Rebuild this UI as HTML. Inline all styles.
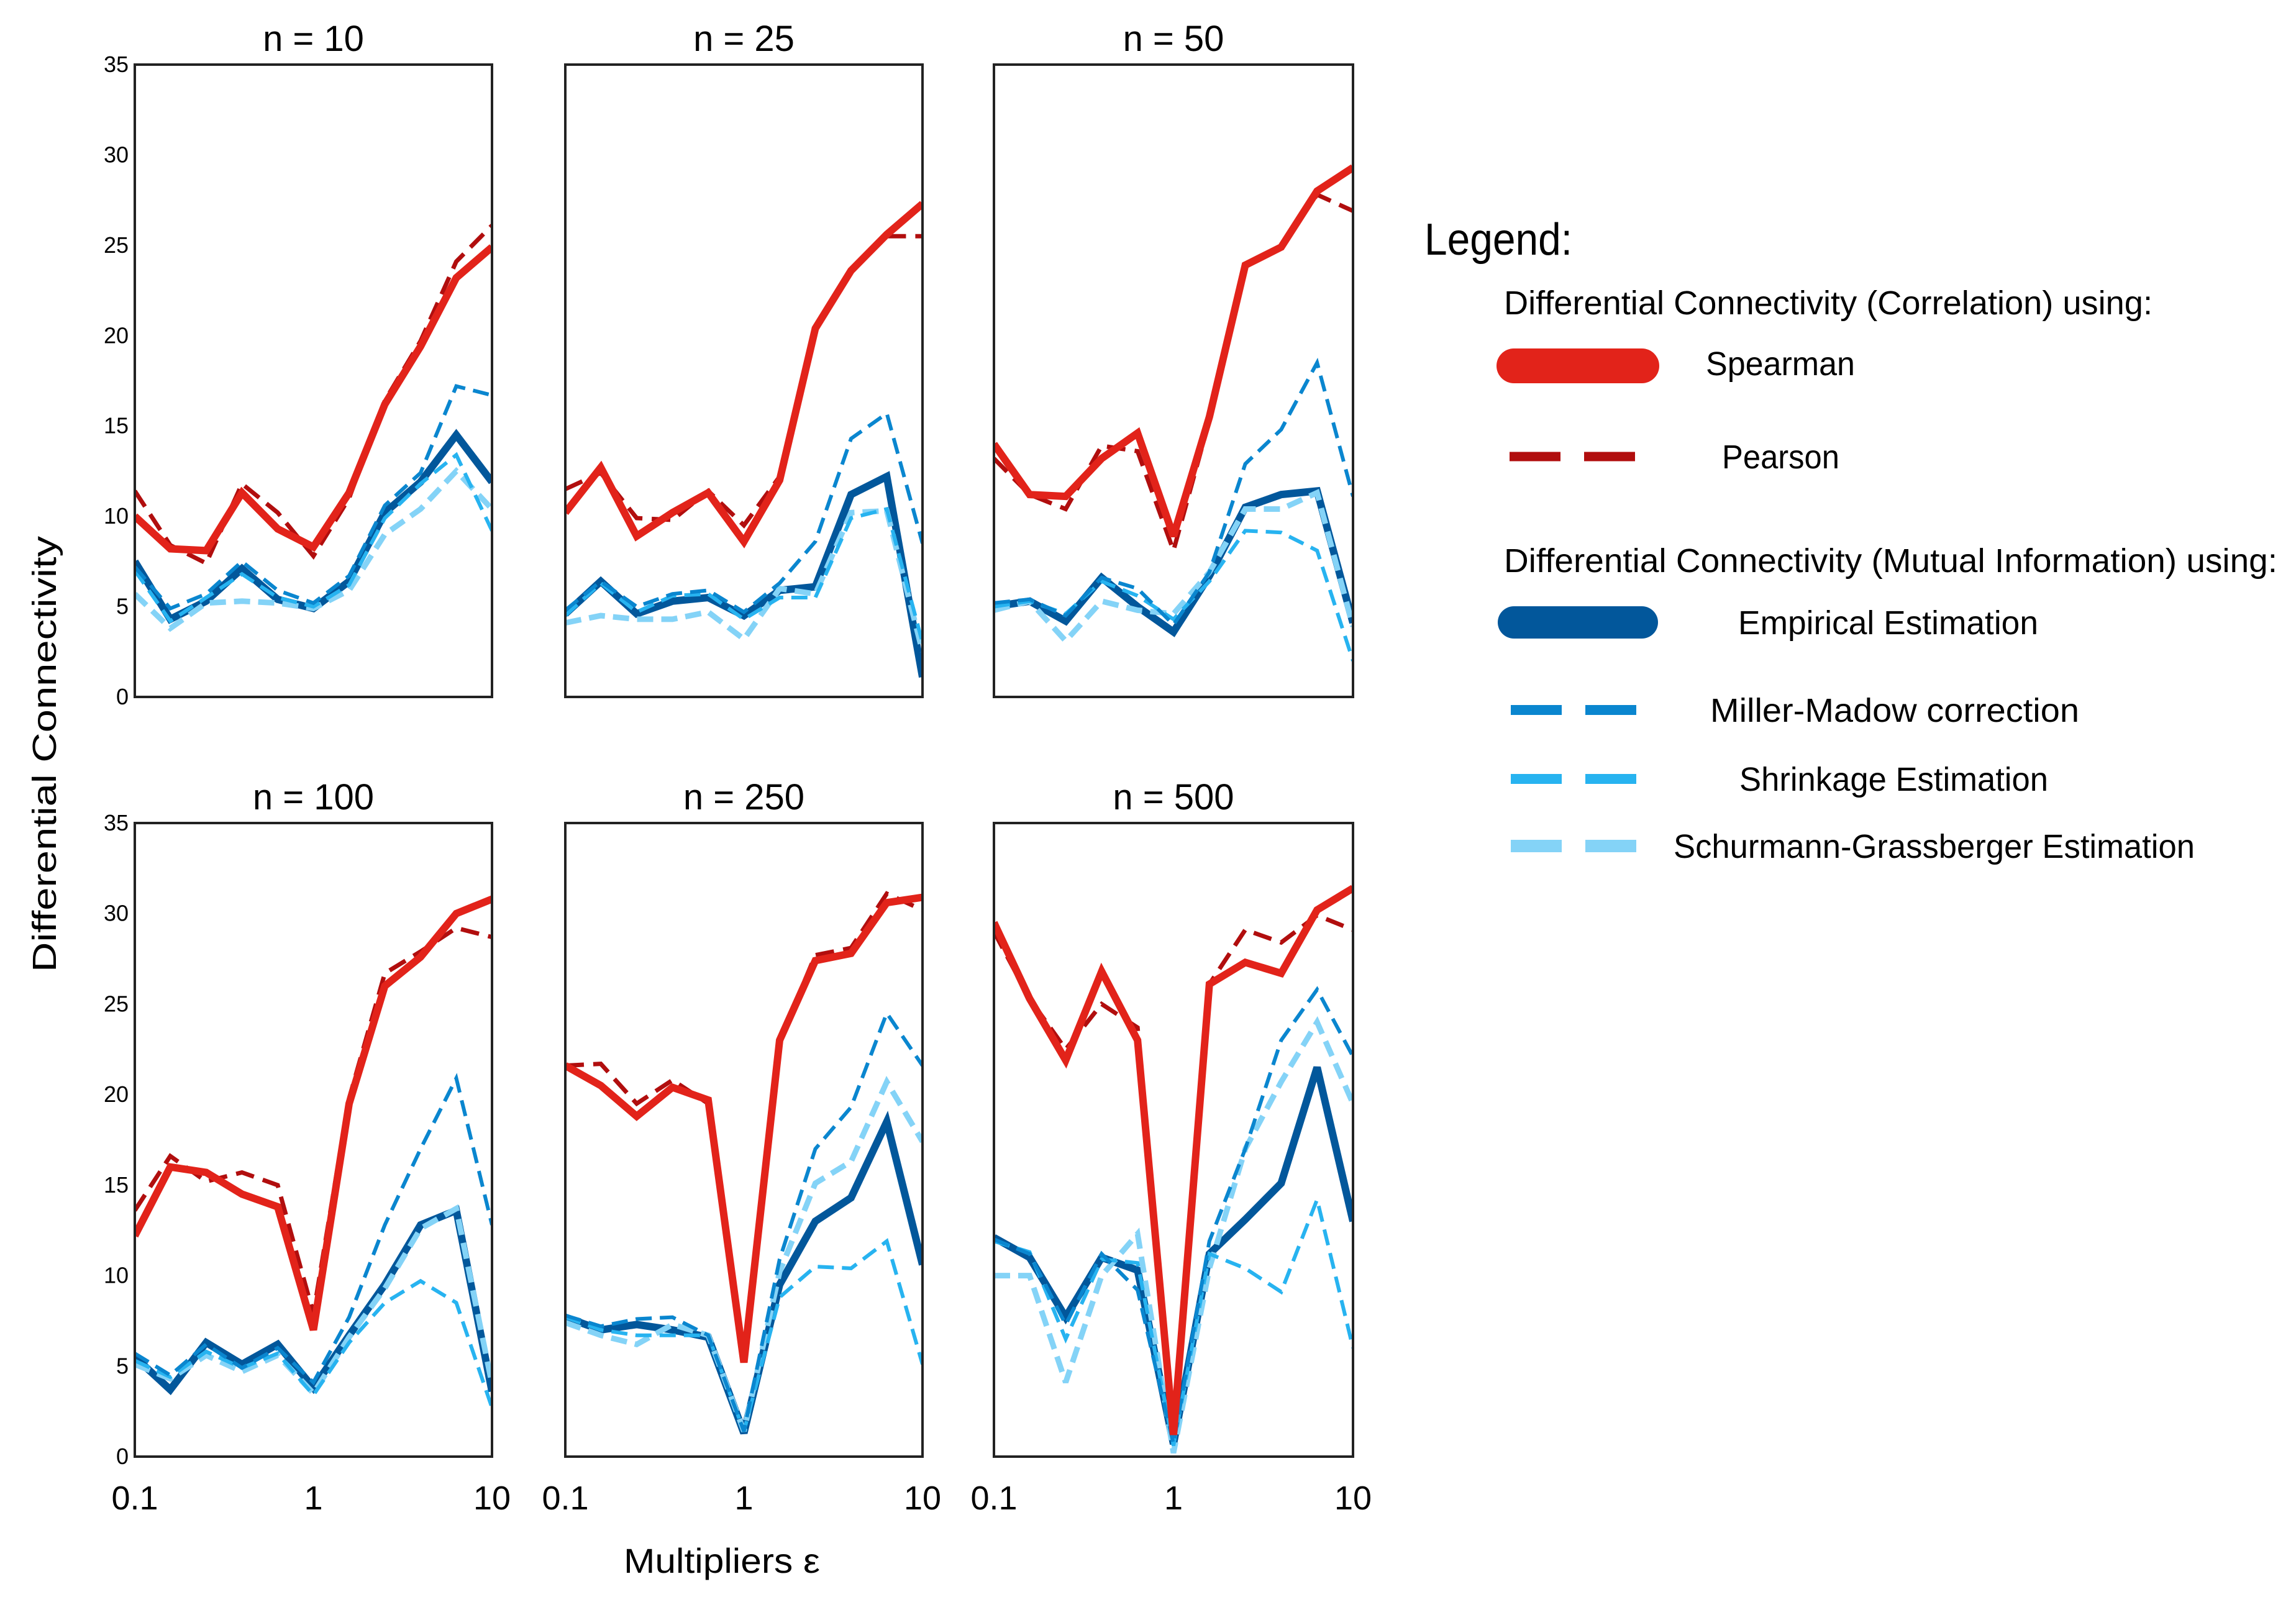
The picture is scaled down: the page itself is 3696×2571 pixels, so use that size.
<!DOCTYPE html>
<html><head><meta charset="utf-8">
<style>
html,body{margin:0;padding:0;background:#fff;}
svg{display:block;font-family:"Liberation Sans Narrow","Liberation Sans",sans-serif;}
</style></head>
<body>
<svg id="chart" width="3696" height="2571" viewBox="0 0 3696 2571" xmlns="http://www.w3.org/2000/svg">
<rect width="3696" height="2571" fill="#fff"/>
<g id="panels"></g>
<text x="0" y="0" transform="translate(90,1214) rotate(-90)" text-anchor="middle" font-size="54" textLength="702" lengthAdjust="spacingAndGlyphs">Differential Connectivity</text>
<text x="1162" y="2532" text-anchor="middle" font-size="56" textLength="316" lengthAdjust="spacingAndGlyphs">Multipliers ε</text>
<g>
<text x="2293" y="410" font-size="72" textLength="238" lengthAdjust="spacingAndGlyphs">Legend:</text>
<text x="2421" y="506" font-size="54" textLength="1044" lengthAdjust="spacingAndGlyphs">Differential Connectivity (Correlation) using:</text>
<line x1="2437" y1="589" x2="2643" y2="589" stroke="#e2231a" stroke-width="56" stroke-linecap="round"/>
<text x="2746" y="604" font-size="54" textLength="240" lengthAdjust="spacingAndGlyphs">Spearman</text>
<line x1="2430" y1="735" x2="2633" y2="735" stroke="#b10e0e" stroke-width="15" stroke-dasharray="82,38"/>
<text x="2772" y="754" font-size="54" textLength="189" lengthAdjust="spacingAndGlyphs">Pearson</text>
<text x="2421" y="921" font-size="54" textLength="1245" lengthAdjust="spacingAndGlyphs">Differential Connectivity (Mutual Information) using:</text>
<line x1="2437" y1="1002" x2="2643" y2="1002" stroke="#02579b" stroke-width="52" stroke-linecap="round"/>
<text x="2798" y="1021" font-size="54" textLength="483" lengthAdjust="spacingAndGlyphs">Empirical Estimation</text>
<line x1="2432" y1="1143" x2="2635" y2="1143" stroke="#0a86cf" stroke-width="16" stroke-dasharray="82,38"/>
<text x="2753" y="1162" font-size="54" textLength="594" lengthAdjust="spacingAndGlyphs">Miller-Madow correction</text>
<line x1="2432" y1="1254" x2="2635" y2="1254" stroke="#27b3f0" stroke-width="16" stroke-dasharray="82,38"/>
<text x="2800" y="1273" font-size="54" textLength="497" lengthAdjust="spacingAndGlyphs">Shrinkage Estimation</text>
<line x1="2432" y1="1362" x2="2635" y2="1362" stroke="#84d3f7" stroke-width="20" stroke-dasharray="82,38"/>
<text x="2694" y="1381" font-size="54" textLength="839" lengthAdjust="spacingAndGlyphs">Schurmann-Grassberger Estimation</text>
</g>
</svg>
<script>
const panelTitles = ["n = 10","n = 25","n = 50","n = 100","n = 250","n = 500"];
const multipliers = [0.1,0.158,0.251,0.398,0.631,1,1.585,2.512,3.981,6.31,10];
const yTicks = [0,5,10,15,20,25,30,35];
const xTickValues = [0.1,1,10];
const xTickLabels = ["0.1","1","10"];
const spearman = [
 [10.0,8.2,8.1,11.3,9.3,8.3,11.3,16.2,19.4,23.2,24.9],
 [10.2,12.7,8.9,10.2,11.3,8.6,12.0,20.4,23.6,25.6,27.3],
 [14.0,11.2,11.1,13.2,14.6,8.9,15.5,23.9,24.9,28.0,29.3],
 [12.2,16.0,15.7,14.5,13.8,7.0,19.5,26.0,27.6,30.0,30.8],
 [21.6,20.5,18.8,20.4,19.7,5.2,23.0,27.4,27.8,30.6,30.9],
 [29.5,25.3,21.9,26.8,23.0,1.2,26.1,27.3,26.7,30.2,31.4]];
const pearson = [
 [11.4,8.4,7.4,11.8,10.2,7.8,11.0,16.4,19.7,24.1,26.1],
 [11.5,12.4,9.9,9.8,11.4,9.5,12.2,20.4,23.6,25.5,25.5],
 [13.2,11.2,10.4,13.9,13.6,8.1,15.3,23.9,24.9,27.8,26.9],
 [13.6,16.6,15.2,15.7,15.0,7.9,19.8,26.7,27.9,29.2,28.7],
 [21.6,21.7,19.5,20.8,19.5,5.6,23.0,27.7,28.1,31.1,30.2],
 [29.0,25.3,22.5,25.0,23.7,1.2,26.1,29.1,28.4,29.9,29.1]];
const empirical = [
 [7.5,4.3,5.3,7.1,5.4,4.9,6.4,10.2,11.9,14.5,11.9],
 [4.6,6.4,4.6,5.3,5.5,4.5,5.9,6.1,11.2,12.2,1.1],
 [5.0,5.3,4.2,6.6,5.0,3.6,6.7,10.5,11.2,11.4,4.1],
 [5.5,3.7,6.3,5.1,6.2,3.8,6.7,9.5,12.8,13.6,3.6],
 [7.7,7.0,7.3,7.0,6.6,1.3,9.5,13.0,14.3,18.5,10.6],
 [12.1,11.0,7.7,11.0,10.3,0.7,11.2,13.1,15.1,21.5,13.0]];
const millerMadow = [
 [7.2,4.9,5.7,7.5,5.9,5.2,6.7,10.6,12.4,17.2,16.7],
 [4.8,6.4,5.0,5.7,5.9,4.7,6.3,8.6,14.3,15.7,8.5],
 [5.2,5.4,4.5,6.6,6.0,4.0,6.9,12.9,14.8,18.5,11.1],
 [5.7,4.5,6.2,4.9,6.0,4.1,7.7,12.8,17.0,20.9,12.8],
 [7.8,7.2,7.6,7.7,6.7,1.4,10.9,17.0,19.3,24.5,21.6],
 [12.0,11.2,7.3,11.2,9.2,0.7,11.9,17.0,23.0,25.8,22.1]];
const shrinkage = [
 [7.0,4.2,5.5,6.8,5.5,5.0,6.2,9.9,11.8,13.4,9.2],
 [4.5,6.3,4.7,5.6,5.7,4.3,5.5,5.5,9.9,10.4,3.0],
 [5.0,5.3,4.6,6.4,5.6,4.3,6.4,9.2,9.1,8.1,2.0],
 [5.3,4.4,5.8,4.9,5.7,3.4,6.3,8.5,9.7,8.5,2.7],
 [7.7,7.0,6.7,6.7,6.7,1.4,8.8,10.5,10.4,11.9,5.1],
 [11.9,11.3,6.5,10.9,10.7,0.6,11.2,10.4,9.1,14.2,6.0]];
const schurmannGrassberger = [
 [5.7,3.8,5.2,5.3,5.2,4.9,5.9,9.0,10.4,12.5,10.4],
 [4.1,4.5,4.3,4.3,4.7,3.2,6.0,5.7,10.2,10.3,2.5],
 [4.8,5.3,3.1,5.3,4.8,4.6,6.9,10.4,10.4,11.3,3.9],
 [5.1,4.3,5.6,4.7,5.6,3.5,6.6,9.3,12.6,13.7,4.0],
 [7.4,6.7,6.2,7.3,6.7,1.4,10.2,15.1,16.3,20.7,17.4],
 [10.0,10.0,4.1,10.0,12.3,0.2,10.4,17.0,20.7,24.0,19.5]];

const NS="http://www.w3.org/2000/svg";
const root=document.getElementById('panels');
const colX=[[217,792],[910,1485],[1600,2178]];
const rowY=[[104,1122],[1325,2345]];
function mk(tag,attrs,parent){const e=document.createElementNS(NS,tag);for(const k in attrs)e.setAttribute(k,attrs[k]);parent.appendChild(e);return e;}
const seriesDefs=[
 {data:empirical,name:'empirical',color:'#02579b',w:12,dash:null},
 {data:schurmannGrassberger,name:'schurmann-grassberger',color:'#84d3f7',w:9,dash:'26,13'},
 {data:shrinkage,name:'shrinkage',color:'#27b3f0',w:6,dash:'26,13'},
 {data:millerMadow,name:'miller-madow',color:'#0a86cf',w:6,dash:'26,13'},
 {data:pearson,name:'pearson',color:'#b10e0e',w:7,dash:'30,15'},
 {data:spearman,name:'spearman',color:'#e2231a',w:12,dash:null}];
for(let p=0;p<6;p++){
 const r=Math.floor(p/3),c=p%3;
 const x0=colX[c][0],x1=colX[c][1],y0=rowY[r][0],y1=rowY[r][1];
 const xs=v=>x0+(Math.log10(v)+1)/2*(x1-x0);
 const ys=v=>y1-v/35*(y1-y0);
 const g=mk('g',{},root);
 
 
 const cp='clip'+p;
 const cl=mk('clipPath',{id:cp},g);mk('rect',{x:x0,y:y0,width:x1-x0,height:y1-y0},cl);
 const lg=mk('g',{'clip-path':'url(#'+cp+')'},g);
 for(const s of seriesDefs){
  const pts=s.data[p].map((v,i)=>xs(multipliers[i]).toFixed(1)+','+ys(v).toFixed(1)).join(' ');
  const pl=mk('polyline',{points:pts,fill:'none',stroke:s.color,'stroke-width':s.w,'stroke-linejoin':'miter','stroke-miterlimit':3},lg);
  if(s.dash)pl.setAttribute('stroke-dasharray',s.dash);
  
  
 }
 const fr=mk('rect',{x:x0,y:y0,width:x1-x0,height:y1-y0,fill:'none',stroke:'#222','stroke-width':4},g);
 
 
 const t=mk('text',{x:(x0+x1)/2,y:y0-22,'text-anchor':'middle','font-size':58},g);
 t.textContent=panelTitles[p];
 
 
 if(c===0){
  for(const v of yTicks){
   const yt=mk('text',{x:x0-10,y:ys(v)+12,'text-anchor':'end','font-size':36},g);
   yt.textContent=v;
   
   
  }
 }
 if(r===1){
  xTickValues.forEach((v,i)=>{
   const xt=mk('text',{x:xs(v),y:2430,'text-anchor':'middle','font-size':54},g);
   xt.textContent=xTickLabels[i];
   
   
  });
 }
}
</script>
</body></html>
